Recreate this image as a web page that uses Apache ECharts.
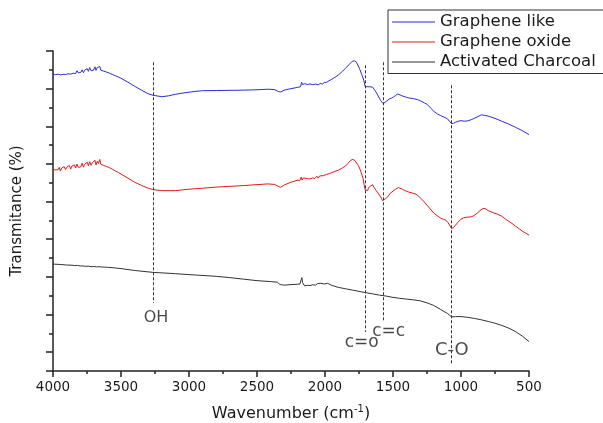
<!DOCTYPE html>
<html>
<head>
<meta charset="utf-8">
<script src="https://cdn.jsdelivr.net/npm/echarts@6/dist/echarts.min.js"></script>
<style>html,body{margin:0;padding:0;background:#fff}#c{width:603px;height:423px}</style>
</head>
<body>
<div id="c"></div>
<script>
const seriesNames = ['Graphene like', 'Graphene oxide', 'Activated Charcoal'];
const xTicks = [500, 1000, 1500, 2000, 2500, 3000, 3500, 4000];

const grapheneLike = [
[4000,15.76],[3990,15.78],[3982,15.74],[3972,15.79],[3962,15.77],[3954,15.81],[3944,15.73],[3936,15.80],[3926,15.76],[3918,15.84],[3908,15.75],[3898,15.82],[3890,15.79],[3880,15.88],[3870,15.77],[3862,15.86],[3852,15.82],[3842,15.92],[3834,15.80],[3824,15.95],[3814,15.84],[3806,15.90],[3796,15.86],[3786,16.00],[3776,15.85],[3768,15.98],[3758,15.90],[3748,16.06],[3740,15.92],[3730,16.12],[3720,15.95],[3712,16.04],[3702,15.98],[3692,16.16],[3684,15.97],[3674,16.12],[3666,16.02],[3656,16.18],[3648,15.98],[3638,16.06],[3628,15.93],[3618,15.98],[3606,15.88],[3596,15.90],[3584,15.82],[3572,15.80],[3560,15.74],[3540,15.68],[3520,15.62],[3500,15.55],[3450,15.35],[3400,15.13],[3350,14.92],[3300,14.73],[3265,14.65],[3200,14.57],[3150,14.62],[3100,14.70],[3050,14.76],[3000,14.81],[2950,14.86],[2900,14.89],[2800,14.90],[2700,14.91],[2600,14.92],[2500,14.94],[2420,14.97],[2370,14.95],[2340,14.84],[2325,14.82],[2300,14.92],[2250,15.00],[2200,15.07],[2180,15.10],[2172,15.34],[2165,15.22],[2150,15.27],[2130,15.22],[2110,15.25],[2090,15.21],[2070,15.24],[2050,15.20],[2035,15.28],[2020,15.24],[2005,15.33],[1990,15.33],[1970,15.42],[1950,15.50],[1920,15.63],[1900,15.74],[1870,15.93],[1850,16.08],[1820,16.30],[1800,16.45],[1785,16.48],[1770,16.42],[1760,16.35],[1745,16.05],[1730,15.75],[1715,15.45],[1705,15.12],[1698,15.02],[1690,15.10],[1680,15.13],[1670,15.10],[1660,15.14],[1650,15.08],[1640,15.02],[1630,14.88],[1620,14.76],[1610,14.62],[1600,14.49],[1590,14.36],[1580,14.28],[1572,14.20],[1565,14.30],[1558,14.22],[1550,14.32],[1540,14.36],[1525,14.46],[1510,14.50],[1495,14.56],[1480,14.64],[1465,14.72],[1455,14.70],[1440,14.64],[1420,14.58],[1400,14.54],[1380,14.50],[1350,14.47],[1320,14.42],[1300,14.36],[1270,14.25],[1250,14.17],[1225,13.98],[1200,13.80],[1175,13.66],[1150,13.57],[1125,13.49],[1100,13.40],[1085,13.27],[1070,13.14],[1055,13.16],[1040,13.22],[1020,13.27],[1000,13.30],[975,13.27],[950,13.29],[925,13.35],[900,13.43],[875,13.52],[850,13.61],[825,13.58],[800,13.54],[750,13.42],[700,13.27],[650,13.12],[600,12.95],[550,12.77],[500,12.56]
];

const grapheneOxide = [
[4000,10.71],[3990,10.74],[3982,10.68],[3972,10.77],[3962,10.70],[3954,10.82],[3946,10.62],[3936,10.78],[3926,10.71],[3918,10.86],[3908,10.70],[3898,10.83],[3890,10.76],[3880,10.92],[3870,10.72],[3862,10.88],[3852,10.80],[3842,10.95],[3834,10.78],[3824,10.99],[3814,10.82],[3806,10.92],[3796,10.84],[3786,11.04],[3776,10.83],[3768,10.98],[3758,10.88],[3748,11.09],[3740,10.90],[3730,11.12],[3720,10.93],[3712,11.05],[3702,10.96],[3692,11.20],[3684,10.95],[3674,11.14],[3666,11.02],[3656,11.24],[3648,10.98],[3638,11.08],[3628,10.92],[3618,10.98],[3606,10.86],[3596,10.90],[3584,10.80],[3572,10.78],[3560,10.71],[3540,10.62],[3520,10.55],[3500,10.46],[3450,10.25],[3400,10.03],[3350,9.86],[3300,9.71],[3265,9.64],[3200,9.58],[3100,9.58],[3000,9.66],[2900,9.71],[2800,9.77],[2700,9.81],[2600,9.85],[2500,9.90],[2420,9.94],[2370,9.91],[2340,9.80],[2325,9.76],[2300,9.88],[2250,10.03],[2200,10.14],[2185,10.12],[2175,10.30],[2168,10.14],[2158,10.26],[2145,10.18],[2130,10.22],[2110,10.20],[2090,10.26],[2075,10.22],[2060,10.35],[2050,10.24],[2040,10.36],[2030,10.30],[2010,10.38],[1990,10.44],[1970,10.48],[1950,10.54],[1920,10.62],[1900,10.67],[1870,10.80],[1850,10.88],[1830,11.04],[1810,11.20],[1795,11.24],[1780,11.18],[1770,11.09],[1755,10.92],[1740,10.67],[1730,10.45],[1720,10.23],[1712,9.90],[1705,9.62],[1700,9.52],[1693,9.68],[1686,9.58],[1680,9.74],[1672,9.66],[1665,9.82],[1658,9.74],[1650,9.90],[1642,9.78],[1635,9.74],[1625,9.60],[1615,9.50],[1605,9.40],[1595,9.30],[1585,9.18],[1578,9.05],[1572,9.15],[1565,9.02],[1558,9.14],[1550,9.12],[1540,9.24],[1530,9.30],[1520,9.44],[1510,9.40],[1500,9.56],[1490,9.60],[1480,9.66],[1470,9.72],[1460,9.75],[1450,9.72],[1430,9.65],[1410,9.58],[1390,9.52],[1360,9.46],[1330,9.39],[1310,9.28],[1290,9.13],[1270,8.98],[1250,8.81],[1225,8.60],[1200,8.39],[1175,8.25],[1150,8.12],[1130,8.06],[1110,8.01],[1095,7.88],[1080,7.70],[1070,7.57],[1055,7.62],[1040,7.75],[1020,7.92],[1000,8.07],[980,8.14],[960,8.17],[940,8.18],[920,8.20],[900,8.28],[880,8.39],[860,8.52],[845,8.60],[830,8.64],[815,8.60],[800,8.52],[780,8.46],[760,8.40],[730,8.33],[700,8.22],[675,8.08],[650,7.96],[625,7.84],[600,7.70],[575,7.57],[550,7.43],[525,7.33],[500,7.22]
];

const activatedCharcoal = [
[4000,5.68],[3950,5.66],[3900,5.63],[3860,5.62],[3840,5.60],[3820,5.61],[3800,5.58],[3780,5.58],[3760,5.56],[3740,5.57],[3720,5.54],[3700,5.55],[3680,5.53],[3660,5.54],[3640,5.52],[3620,5.52],[3600,5.51],[3550,5.48],[3500,5.44],[3400,5.34],[3265,5.24],[3100,5.17],[3000,5.12],[2800,5.03],[2700,4.96],[2600,4.88],[2500,4.80],[2400,4.75],[2350,4.72],[2335,4.62],[2320,4.58],[2300,4.56],[2250,4.59],[2200,4.61],[2185,4.62],[2175,4.85],[2170,4.96],[2165,4.70],[2158,4.62],[2150,4.52],[2130,4.55],[2110,4.54],[2090,4.58],[2070,4.56],[2055,4.64],[2045,4.57],[2030,4.66],[2020,4.58],[2005,4.62],[1995,4.56],[1980,4.66],[1970,4.60],[1955,4.56],[1930,4.50],[1900,4.44],[1850,4.37],[1800,4.30],[1750,4.23],[1700,4.16],[1650,4.10],[1600,4.03],[1550,3.98],[1500,3.91],[1450,3.86],[1400,3.82],[1350,3.78],[1300,3.73],[1250,3.62],[1200,3.48],[1150,3.27],[1100,3.06],[1070,2.88],[1040,2.89],[1000,2.89],[950,2.85],[900,2.79],[850,2.72],[800,2.63],[750,2.54],[700,2.42],[650,2.28],[600,2.10],[550,1.86],[500,1.56]
];

// band marker lines (wavenumber, top, bottom) and their labels
const bandWn = [3265, 1704, 1574, 1069];
const bandTop = [16.40, 16.24, 16.40, 15.18];
const bandBottom = [3.61, 2.07, 2.60, 0.32];
const bandLabels = ['OH', 'c=o', 'c=c', 'C-O'];
const bandLabelWn = [3243, 1730, 1532, 1068];
const bandLabelY = [2.83, 1.49, 2.07, 1.08];
const bandLabelSize = [16, 17, 17, 18];

const FONT = 'DejaVu Sans';
const colors = ['#2b2bdc', '#e01a1a', '#333333'];

const chart = echarts.init(document.getElementById('c'), null, {renderer: 'canvas'});

const lineSeries = [grapheneLike, grapheneOxide, activatedCharcoal].map((d, i) => ({
  name: seriesNames[i],
  type: 'line',
  data: d,
  yAxisIndex: 0,
  symbol: 'none',
  showSymbol: false,
  smooth: false,
  silent: true,
  animation: false,
  lineStyle: {color: colors[i], width: 1},
  itemStyle: {color: colors[i]}
}));

const markerSeries = {
  name: 'bands',
  type: 'line',
  data: [],
  yAxisIndex: 0,
  symbol: 'none',
  animation: false,
  silent: true,
  markLine: {
    symbol: ['none', 'none'],
    silent: true,
    animation: false,
    label: {show: false},
    lineStyle: {color: '#333', width: 1, type: [3, 2]},
    data: bandWn.map((w, i) => [{coord: [w, bandTop[i]]}, {coord: [w, bandBottom[i]]}])
  }
};

const labelSeries = {
  name: 'bandLabels',
  type: 'scatter',
  yAxisIndex: 0,
  symbolSize: 1,
  silent: true,
  animation: false,
  itemStyle: {color: 'rgba(0,0,0,0)'},
  data: bandLabels.map((t, i) => ({
    value: [bandLabelWn[i], bandLabelY[i]],
    label: {
      show: true, position: 'inside', formatter: t,
      fontFamily: FONT, fontSize: bandLabelSize[i], color: '#1a1a1a'
    }
  }))
};

chart.setOption({
  animation: false,
  backgroundColor: '#fff',
  grid: {left: 53, right: 74, top: 51, bottom: 52, containLabel: false, outerBoundsMode: 'none'},
  legend: {
    data: seriesNames,
    orient: 'vertical',
    left: 388, top: 10,
    padding: [3.5, 24, 3, 4],
    itemWidth: 43, itemHeight: 17, itemGap: 3,
    borderColor: '#333', borderWidth: 1,
    textStyle: {fontFamily: FONT, fontSize: 16.5, color: '#1a1a1a', lineHeight: 17},
    icon: 'path://M0,0 L43,0 L43,1 L0,1 Z'
  },
  xAxis: {
    type: 'value', min: 500, max: 4000, interval: 500, inverse: true,
    name: 'Wavenumber (cm{sup|-1})',
    nameLocation: 'middle', nameGap: 33,
    nameTextStyle: {fontFamily: FONT, fontSize: 16, color: '#1a1a1a',
      rich: {sup: {fontFamily: FONT, fontSize: 10, color: '#1a1a1a', verticalAlign: 'top', padding: [0, 0, 10, 0]}}},
    axisLine: {show: true, lineStyle: {color: '#222', width: 1.5}},
    axisTick: {show: true, inside: false, length: 6, lineStyle: {color: '#222', width: 1.5}},
    minorTick: {show: true, splitNumber: 2, length: 3, lineStyle: {color: '#222', width: 1.5}},
    axisLabel: {fontFamily: FONT, fontSize: 13.5, color: '#1a1a1a', margin: 9,
      formatter: v => xTicks.indexOf(v) >= 0 ? String(v) : ''},
    splitLine: {show: false}
  },
  yAxis: [{
    type: 'value', min: 0, max: 17, interval: 1, position: 'left',
    name: 'Transmitance (%)', nameLocation: 'middle', nameGap: 28,
    nameTextStyle: {fontFamily: FONT, fontSize: 15, color: '#1a1a1a'},
    axisLine: {show: true, lineStyle: {color: '#222', width: 1.5}},
    axisTick: {show: true, inside: false, length: 4, lineStyle: {color: '#222', width: 1.5}},
    axisLabel: {show: false},
    splitLine: {show: false}
  }, {
    type: 'value', min: 0, max: 17, interval: 2, inverse: true, position: 'left', offset: 0,
    axisLine: {show: false},
    axisTick: {show: true, inside: false, length: 7, lineStyle: {color: '#222', width: 1.5}},
    axisLabel: {show: false},
    splitLine: {show: false}
  }],
  series: [...lineSeries, markerSeries, labelSeries]
});
</script>
</body>
</html>
